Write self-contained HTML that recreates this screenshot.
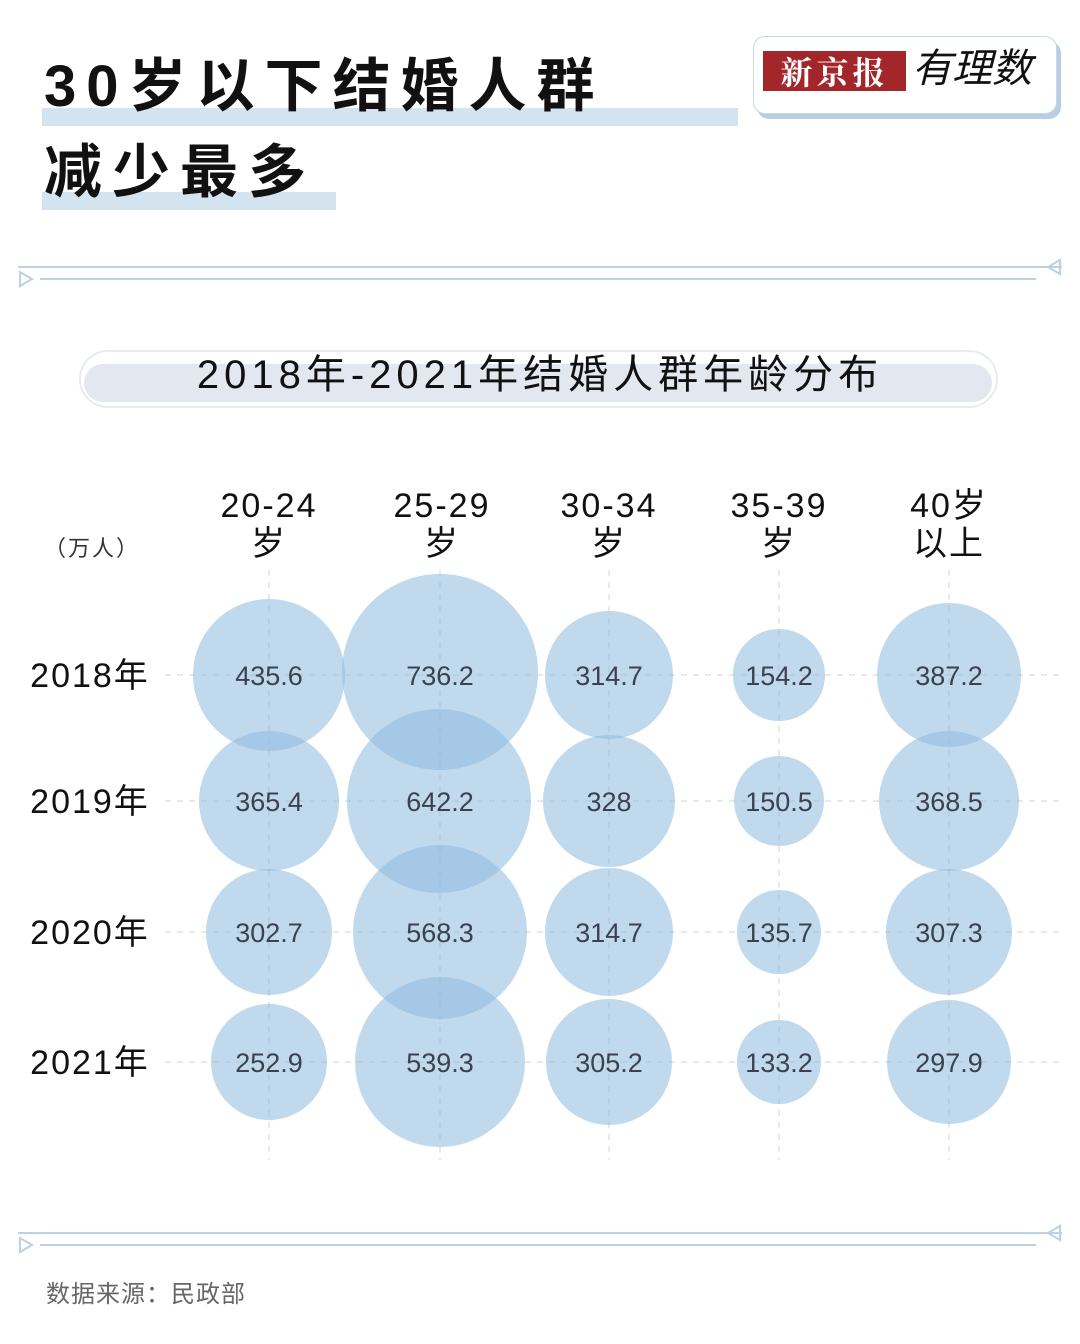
<!DOCTYPE html>
<html><head><meta charset="utf-8"><style>
body{margin:0;width:1080px;height:1344px;background:#fff;position:relative;overflow:hidden;font-family:"Liberation Sans","Noto Sans CJK SC",sans-serif;color:#111}
.a{position:absolute;white-space:nowrap}
</style></head><body>
<div class="a" style="left:42px;top:108px;width:696px;height:18px;background:#d3e3ef"></div>
<div class="a" style="left:42px;top:192px;width:294px;height:18px;background:#d3e3ef"></div>
<div class="a" style="left:44px;top:52px;font-size:58px;font-weight:bold;letter-spacing:10px;line-height:70px">30岁以下结婚人群</div>
<div class="a" style="left:44px;top:138px;font-size:58px;font-weight:bold;letter-spacing:10px;line-height:70px">减少最多</div>
<div class="a" style="left:753px;top:36px;width:302px;height:76px;border:1px solid #c8d8e6;border-radius:12px;background:#fff;box-shadow:4px 5px 0 #b8cfe3"></div>
<div class="a" style="left:763px;top:51px;width:143px;height:40px;background:#a3262b;color:#fff;font-family:'Noto Serif CJK SC',serif;font-size:32px;line-height:40px;text-align:center;font-weight:bold;letter-spacing:4px">新京报</div>
<div class="a" style="left:912px;top:44px;font-size:40px;font-style:italic;line-height:50px">有理数</div>
<svg class="a" style="left:0;top:0" width="1080" height="1344">
<g stroke="#bcd2e2" stroke-width="2" fill="none">
<line x1="18" y1="267" x2="1062" y2="267"/><line x1="40" y1="279" x2="1036" y2="279"/>
<polygon points="20,272 32,279 20,286"/><polygon points="1060,260 1048,267 1060,274"/>
<line x1="18" y1="1233" x2="1062" y2="1233"/><line x1="40" y1="1245" x2="1036" y2="1245"/>
<polygon points="20,1238 32,1245 20,1252"/><polygon points="1060,1226 1048,1233 1060,1240"/>
</g>
<rect x="80" y="351" width="917" height="56" rx="28" fill="#fff" stroke="#e6ecf2" stroke-width="2"/>
<rect x="84" y="364" width="908" height="38" rx="19" fill="#e3e8f0"/>
<g stroke="#e2e2e2" stroke-width="1.5" stroke-dasharray="6,6">
<line x1="165" y1="675" x2="1060" y2="675"/><line x1="165" y1="801" x2="1060" y2="801"/>
<line x1="165" y1="932" x2="1060" y2="932"/><line x1="165" y1="1062" x2="1060" y2="1062"/>
<line x1="269" y1="570" x2="269" y2="1160"/><line x1="440" y1="570" x2="440" y2="1160"/>
<line x1="609" y1="570" x2="609" y2="1160"/><line x1="779" y1="570" x2="779" y2="1160"/>
<line x1="949" y1="570" x2="949" y2="1160"/>
</g>
<g fill="rgba(140,185,222,0.55)">
<circle cx="269" cy="675" r="76"/><circle cx="440" cy="672" r="98"/><circle cx="609" cy="675" r="64"/><circle cx="779" cy="675" r="46"/><circle cx="949" cy="675" r="72"/>
<circle cx="269" cy="801" r="70"/><circle cx="439" cy="801" r="92"/><circle cx="609" cy="801" r="66"/><circle cx="779" cy="801" r="45"/><circle cx="949" cy="801" r="70"/>
<circle cx="269" cy="932" r="63"/><circle cx="440" cy="932" r="87"/><circle cx="609" cy="932" r="64"/><circle cx="779" cy="932" r="42"/><circle cx="949" cy="932" r="63"/>
<circle cx="269" cy="1062" r="58"/><circle cx="440" cy="1062" r="85"/><circle cx="609" cy="1062" r="63"/><circle cx="779" cy="1062" r="42"/><circle cx="949" cy="1062" r="62"/>
</g>
<g font-family="Liberation Sans, sans-serif" font-size="27" fill="#3a4250" text-anchor="middle">
<text x="269" y="685">435.6</text><text x="440" y="685">736.2</text><text x="609" y="685">314.7</text><text x="779" y="685">154.2</text><text x="949" y="685">387.2</text>
<text x="269" y="811">365.4</text><text x="440" y="811">642.2</text><text x="609" y="811">328</text><text x="779" y="811">150.5</text><text x="949" y="811">368.5</text>
<text x="269" y="942">302.7</text><text x="440" y="942">568.3</text><text x="609" y="942">314.7</text><text x="779" y="942">135.7</text><text x="949" y="942">307.3</text>
<text x="269" y="1072">252.9</text><text x="440" y="1072">539.3</text><text x="609" y="1072">305.2</text><text x="779" y="1072">133.2</text><text x="949" y="1072">297.9</text>
</g>
<g font-family="Liberation Sans, Noto Sans CJK SC, sans-serif" font-size="34" fill="#111" text-anchor="middle" letter-spacing="2">
<text x="540" y="388" font-size="40" letter-spacing="5">2018年-2021年结婚人群年龄分布</text>
<text x="269" y="517">20-24</text><text x="269" y="555">岁</text>
<text x="442" y="517">25-29</text><text x="442" y="555">岁</text>
<text x="609" y="517">30-34</text><text x="609" y="555">岁</text>
<text x="779" y="517">35-39</text><text x="779" y="555">岁</text>
<text x="949" y="517">40岁</text><text x="949" y="555">以上</text>
<text x="92" y="556" font-size="22" fill="#333">（万人）</text>
<text x="90" y="687">2018年</text><text x="90" y="813">2019年</text><text x="90" y="944">2020年</text><text x="90" y="1074">2021年</text>
<text x="146" y="1302" font-size="24" fill="#666" letter-spacing="1">数据来源：民政部</text>
</g>
</svg>
</body></html>
